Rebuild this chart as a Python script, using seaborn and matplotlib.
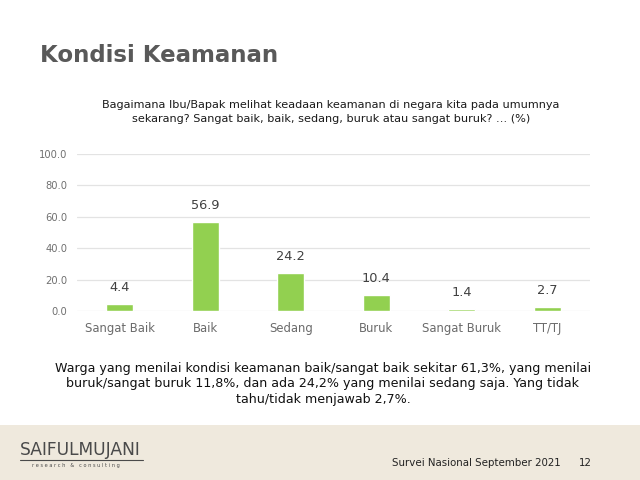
import matplotlib
matplotlib.use("Agg")
import matplotlib.pyplot as plt
import seaborn as sns
import pandas as pd
from matplotlib.patches import Rectangle

categories = ["Sangat Baik", "Baik", "Sedang", "Buruk", "Sangat Buruk", "TT/TJ"]
values = [4.4, 56.9, 24.2, 10.4, 1.4, 2.7]
yticks = [0, 20, 40, 60, 80, 100]

title = "Kondisi Keamanan"
question = ("Bagaimana Ibu/Bapak melihat keadaan keamanan di negara kita pada umumnya\n"
            "sekarang? Sangat baik, baik, sedang, buruk atau sangat buruk? … (%)")
note = ("Warga yang menilai kondisi keamanan baik/sangat baik sekitar 61,3%, yang menilai\n"
        "buruk/sangat buruk 11,8%, dan ada 24,2% yang menilai sedang saja. Yang tidak\n"
        "tahu/tidak menjawab 2,7%.")
footer_left = "Survei Nasional September 2021"
footer_page = "12"

sns.set_theme(style="white")
plt.rcParams['font.family'] = ['DejaVu Sans']

df = pd.DataFrame({"cat": categories, "val": values})

fig = plt.figure(figsize=(6.4, 4.8), dpi=100)
fig.patch.set_facecolor("white")

# footer band
fig.add_artist(Rectangle((0, 0), 1, 55/480, transform=fig.transFigure,
                         facecolor="#efe9dd", edgecolor="none", zorder=0))

ax = fig.add_axes([77/640, 169/480, 513/640, 157/480])
sns.barplot(data=df, x="cat", y="val", color="#92d050", width=0.32, ax=ax,
            saturation=1)
ax.set_ylim(0, 100)
ax.set_yticks(yticks)
ax.set_yticklabels([f"{v:.1f}" for v in yticks], fontsize=7.2, color="#707070")
ax.set_xlim(-0.5, len(categories) - 0.5)
ax.yaxis.grid(True, color="#e3e3e3", linewidth=0.9)
ax.set_axisbelow(True)
for s in ["top", "right", "left", "bottom"]:
    ax.spines[s].set_visible(False)
ax.set_xlabel("")
ax.set_ylabel("")
ax.tick_params(axis="x", labelsize=8.4, colors="#6b6b6b", pad=8, length=0)
ax.tick_params(axis="y", length=0, pad=7)
for p in ax.patches:
    p.set_zorder(3)

for i, v in enumerate(values):
    ax.annotate(f"{v:.1f}", (i, v), xytext=(0, 7), textcoords="offset points",
                ha="center", va="bottom", fontsize=9.3, color="#404040")

fig.text(40/640, 1 - 55/480, title, fontsize=16.5, fontweight="bold",
         color="#595959", ha="left", va="center")
fig.text(331/640, 1 - 112/480, question, fontsize=8.1, color="#1a1a1a",
         ha="center", va="center", linespacing=1.55)
fig.text(323/640, 1 - 384/480, note, fontsize=9.1, color="#111111",
         ha="center", va="center", linespacing=1.25)
fig.text(561/640, 1 - 463/480, footer_left, fontsize=7.4, color="#222222",
         ha="right", va="center")
fig.text(592/640, 1 - 463/480, footer_page, fontsize=7.4, color="#222222",
         ha="right", va="center")

# logo
fig.text(20/640, 1 - 450/480, "SAIFULMUJANI", fontsize=12.3, color="#4a4a4a",
         ha="left", va="center")
fig.add_artist(plt.Line2D([20/640, 143/640], [1 - 460/480, 1 - 460/480],
                          transform=fig.transFigure, color="#4a4a4a", linewidth=0.8))
fig.text(32/640, 1 - 466/480, "r e s e a r c h   &   c o n s u l t i n g",
         fontsize=3.6, color="#4a4a4a", ha="left", va="center")

fig.savefig("out.png", dpi=100)
